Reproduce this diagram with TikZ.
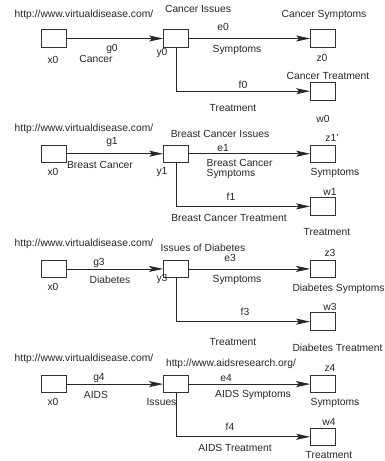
\documentclass[tikz,border=0pt]{standalone}
\usepackage{fontspec}
\setmainfont{Liberation Sans}
\usetikzlibrary{arrows.meta}

\tikzset{
  pg/.style={draw=black!80,line width=0.8pt,minimum width=25pt,minimum height=17.5pt,inner sep=0pt},
  lb/.style={inner sep=0pt,text=black!85,font=\fontsize{10.3}{9.5}\selectfont},
  ln/.style={draw=black!85,line width=0.8pt},
  ar/.style={ln,-{Stealth[length=14pt,width=6pt,inset=3pt]}}
}

\begin{document}
\begin{tikzpicture}[x=1pt,y=-1pt]

\useasboundingbox (0,0) rectangle (384,461) ;

\node[pg] (xa) at (54,38.5) {} ;
\node[pg] (ya) at (176,38.5) {} ;
\node[pg] (za) at (323,38.5) {} ;
\node[pg] (wa) at (323,91.2) {} ;
\coordinate (ka) at (ya |- wa) ;

\draw[ar] (xa.east) -- (ya.west) ;
\draw[ar] (ya.east) -- (za.west) ;
\draw[ln] (ya.south) -- (ka) ;
\draw[ar] (ka) -- (wa.west) ;

\node[lb] (urla) at (84,15) {http://www.virtualdisease.com/} ;
\node[lb] (xla) at (53,60) {x0} ;
\node[lb] (yla) at (162,53) {y0} ;
\node[lb] (zla) at (322,58) {z0} ;
\node[lb] (wla) at (323,119) {w0} ;
\node[lb] (iss0) at (198,9) {Cancer Issues} ;
\node[lb] (g0) at (112,49) {g0} ;
\node[lb] (gt0) at (96,59) {Cancer} ;
\node[lb] (e0) at (223,27) {e0} ;
\node[lb] (et0) at (237,50) {Symptoms} ;
\node[lb] (zt0) at (324,15) {Cancer Symptoms} ;
\node[lb] (wt0) at (328,76) {Cancer Treatment} ;
\node[lb] (f0) at (243,85) {f0} ;
\node[lb] (ft0) at (233,108) {Treatment} ;

\node[pg] (xb) at (54,153.7) {} ;
\node[pg] (yb) at (176,153.7) {} ;
\node[pg] (zb) at (323,153.7) {} ;
\node[pg] (wb) at (323,206.4) {} ;
\coordinate (kb) at (yb |- wb) ;

\draw[ar] (xb.east) -- (yb.west) ;
\draw[ar] (yb.east) -- (zb.west) ;
\draw[ln] (yb.south) -- (kb) ;
\draw[ar] (kb) -- (wb.west) ;

\node[lb] (urlb) at (84,129) {http://www.virtualdisease.com/} ;
\node[lb] (xlb) at (53,172) {x0} ;
\node[lb] (ylb) at (162,172) {y1} ;
\node[lb] (zlb) at (332,138) {z1'} ;
\node[lb] (wlb) at (330,192) {w1} ;
\node[lb] (iss1) at (220,134) {Breast Cancer Issues} ;
\node[lb] (g1) at (112,142) {g1} ;
\node[lb] (gt1) at (100,165) {Breast Cancer} ;
\node[lb] (e1) at (223,148) {e1} ;
\node[lb,anchor=west,align=left] (et1) at (206.5,169) {Breast Cancer\\Symptoms} ;
\node[lb] (zt1) at (335,173) {Symptoms} ;
\node[lb] (f1) at (231,197) {f1} ;
\node[lb] (ft1) at (229,218) {Breast Cancer Treatment} ;
\node[lb] (wt1) at (327,232) {Treatment} ;

\node[pg] (xc) at (54,268.9) {} ;
\node[pg] (yc) at (176,268.9) {} ;
\node[pg] (zc) at (323,268.9) {} ;
\node[pg] (wc) at (323,321.6) {} ;
\coordinate (kc) at (yc |- wc) ;

\draw[ar] (xc.east) -- (yc.west) ;
\draw[ar] (yc.east) -- (zc.west) ;
\draw[ln] (yc.south) -- (kc) ;
\draw[ar] (kc) -- (wc.west) ;

\node[lb] (urlc) at (84,244) {http://www.virtualdisease.com/} ;
\node[lb] (xlc) at (53,287) {x0} ;
\node[lb] (ylc) at (162,279) {y3} ;
\node[lb] (zlc) at (330,253) {z3} ;
\node[lb] (wlc) at (330,307) {w3} ;
\node[lb] (iss3) at (203,247.5) {Issues of Diabetes} ;
\node[lb] (g3) at (99,263) {g3} ;
\node[lb] (gt3) at (110,280) {Diabetes} ;
\node[lb] (e3) at (230,258) {e3} ;
\node[lb] (et3) at (237,280) {Symptoms} ;
\node[lb,anchor=west] (zt3) at (292.3,289) {Diabetes Symptoms} ;
\node[lb] (f3) at (245,312) {f3} ;
\node[lb] (ft3) at (233,342) {Treatment} ;
\node[lb,anchor=west] (wt3) at (292.3,348) {Diabetes Treatment} ;

\node[pg] (xd) at (54,384.1) {} ;
\node[pg] (yd) at (176,384.1) {} ;
\node[pg] (zd) at (323,384.1) {} ;
\node[pg] (wd) at (323,436.8) {} ;
\coordinate (kd) at (yd |- wd) ;

\draw[ar] (xd.east) -- (yd.west) ;
\draw[ar] (yd.east) -- (zd.west) ;
\draw[ln] (yd.south) -- (kd) ;
\draw[ar] (kd) -- (wd.west) ;

\node[lb] (urld) at (84,359) {http://www.virtualdisease.com/} ;
\node[lb] (xld) at (53,402) {x0} ;
\node[lb] (yld) at (161.5,402) {Issues} ;
\node[lb] (zld) at (330,368) {z4} ;
\node[lb] (wld) at (329,422) {w4} ;
\node[lb] (iss4) at (231,364) {http://www.aidsresearch.org/} ;
\node[lb] (g4) at (99,378) {g4} ;
\node[lb] (gt4) at (96,395) {AIDS} ;
\node[lb] (e4) at (226,378) {e4} ;
\node[lb] (et4) at (253,395) {AIDS Symptoms} ;
\node[lb] (zt4) at (335,403) {Symptoms} ;
\node[lb] (f4) at (230,427) {f4} ;
\node[lb] (ft4) at (235,448) {AIDS Treatment} ;
\node[lb] (wt4) at (329,455) {Treatment} ;

\end{tikzpicture}
\end{document}
